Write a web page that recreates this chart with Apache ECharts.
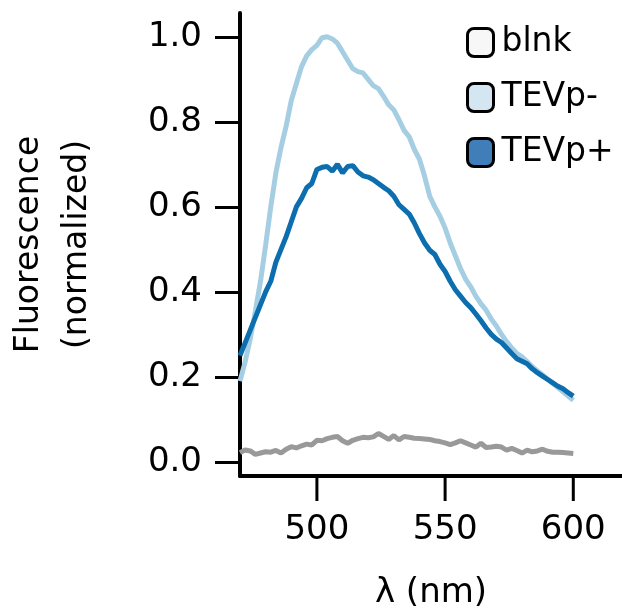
<!DOCTYPE html>
<html>
<head>
<meta charset="utf-8">
<script src="https://cdn.jsdelivr.net/npm/echarts@6/dist/echarts.min.js"></script>
<style>
  html, body { margin: 0; padding: 0; background: #fff; }
  #chart { width: 622px; height: 611px; }
</style>
</head>
<body>
<div id="chart"></div>
<script>
// wavelength grid (nm), read every 2 nm from 470 to 600
const wavelengths = [];
for (let w = 470; w <= 600; w += 2) wavelengths.push(w);

const blnk = [
  0.022, 0.028, 0.026, 0.018, 0.021, 0.024, 0.023, 0.027, 0.021, 0.030,
  0.036, 0.033, 0.038, 0.042, 0.040, 0.051, 0.050, 0.055, 0.058, 0.060,
  0.050, 0.044, 0.051, 0.055, 0.058, 0.057, 0.059, 0.067, 0.060, 0.053,
  0.062, 0.052, 0.060, 0.058, 0.056, 0.055, 0.054, 0.053, 0.050, 0.048,
  0.045, 0.041, 0.045, 0.050, 0.045, 0.040, 0.035, 0.044, 0.034, 0.035,
  0.037, 0.035, 0.028, 0.032, 0.027, 0.021, 0.028, 0.024, 0.026, 0.030,
  0.025, 0.023, 0.023, 0.022, 0.021, 0.020
];

const tevpMinus = [
  0.190, 0.235, 0.290, 0.355, 0.425, 0.510, 0.600, 0.680, 0.740, 0.790,
  0.850, 0.890, 0.930, 0.955, 0.970, 0.980, 0.998, 1.000, 0.995, 0.985,
  0.965, 0.945, 0.925, 0.918, 0.915, 0.900, 0.885, 0.878, 0.860, 0.840,
  0.828, 0.805, 0.780, 0.765, 0.735, 0.712, 0.672, 0.625, 0.600, 0.578,
  0.550, 0.515, 0.485, 0.455, 0.430, 0.412, 0.390, 0.372, 0.357, 0.336,
  0.320, 0.300, 0.283, 0.268, 0.255, 0.247, 0.236, 0.224, 0.214, 0.205,
  0.195, 0.185, 0.175, 0.165, 0.155, 0.145
];

const tevpPlus = [
  0.250, 0.280, 0.310, 0.340, 0.370, 0.400, 0.425, 0.470, 0.500, 0.530,
  0.565, 0.600, 0.620, 0.645, 0.655, 0.688, 0.693, 0.695, 0.684, 0.700,
  0.680, 0.695, 0.697, 0.682, 0.673, 0.670, 0.664, 0.655, 0.646, 0.638,
  0.625, 0.605, 0.594, 0.583, 0.562, 0.537, 0.515, 0.498, 0.488, 0.465,
  0.448, 0.425, 0.405, 0.390, 0.375, 0.363, 0.348, 0.332, 0.315, 0.300,
  0.289, 0.281, 0.268, 0.255, 0.243, 0.237, 0.231, 0.219, 0.210, 0.202,
  0.194, 0.186, 0.178, 0.172, 0.163, 0.155
];

const xTicks = [500, 550, 600];
const yTicks = [0, 0.2, 0.4, 0.6, 0.8, 1.0];
const xMin = 470, xMax = 619;
const yMin = -0.033, yMax = 1.056;

const font = 'DejaVu Sans';

function pairs(vals) {
  return wavelengths.map((w, i) => [w, vals[i]]);
}

const chart = echarts.init(document.getElementById('chart'));

const option = {
  animation: false,
  grid: { left: 240, right: 0, top: 13, bottom: 135, outerBoundsMode: 'none' },
  legend: {
    orient: 'vertical',
    left: 461,
    top: 21,
    icon: 'roundRect',
    itemWidth: 26,
    itemHeight: 28,
    itemGap: 22,
    textStyle: { fontFamily: font, fontSize: 33, color: '#000', padding: [0, 0, 0, 3] },
    data: [
      { name: 'blnk', itemStyle: { color: '#f7f7f7', borderColor: '#000', borderWidth: 3 } },
      { name: 'TEVp-', itemStyle: { color: '#d4e6f1', borderColor: '#000', borderWidth: 3 } },
      { name: 'TEVp+', itemStyle: { color: '#3f7eb8', borderColor: '#000', borderWidth: 3 } }
    ]
  },
  xAxis: {
    type: 'value',
    min: xMin,
    max: xMax,
    name: 'λ (nm)',
    nameLocation: 'middle',
    nameGap: 100,
    nameTextStyle: { fontFamily: font, fontSize: 34, color: '#000' },
    splitLine: { show: false },
    axisLine: { onZero: false, lineStyle: { color: '#000', width: 4 } },
    axisTick: { show: false },
    axisLabel: {
      customValues: xTicks, margin: 37,
      fontFamily: font, fontSize: 34, color: '#000'
    }
  },
  yAxis: {
    type: 'value',
    min: yMin,
    max: yMax,
    name: 'Fluorescence\n(normalized)',
    nameLocation: 'middle',
    nameRotate: 90,
    nameGap: 139,
    nameTextStyle: { fontFamily: font, fontSize: 33, color: '#000', lineHeight: 48 },
    splitLine: { show: false },
    axisLine: { show: true, onZero: false, lineStyle: { color: '#000', width: 4 } },
    axisTick: { show: true, customValues: yTicks, length: 25, lineStyle: { color: '#000', width: 3 } },
    axisLabel: {
      customValues: yTicks, margin: 38,
      fontFamily: font, fontSize: 34, color: '#000',
      formatter: v => v.toFixed(1)
    }
  },
  series: [
    {
      name: 'blnk', type: 'line', showSymbol: false, data: pairs(blnk),
      lineStyle: { color: '#999999', width: 5 }, itemStyle: { color: '#999999' }
    },
    {
      name: 'TEVp-', type: 'line', showSymbol: false, data: pairs(tevpMinus),
      lineStyle: { color: '#a6cee3', width: 5 }, itemStyle: { color: '#a6cee3' }
    },
    {
      name: 'TEVp+', type: 'line', showSymbol: false, data: pairs(tevpPlus),
      lineStyle: { color: '#0c6eae', width: 5 }, itemStyle: { color: '#0c6eae' }
    },
    {
      // x-axis tick marks (axisTick custom values don't render on this axis)
      name: 'xticks', type: 'custom', silent: true, clip: false, z: 10,
      data: xTicks.map(v => [v, yMin]),
      encode: { x: 0, y: 1 },
      renderItem: (params, api) => {
        const p = api.coord([api.value(0), api.value(1)]);
        return {
          type: 'line',
          shape: { x1: p[0], y1: p[1], x2: p[0], y2: p[1] + 25 },
          style: { stroke: '#000', lineWidth: 3 }
        };
      }
    }
  ]
};

chart.setOption(option);
</script>
</body>
</html>
